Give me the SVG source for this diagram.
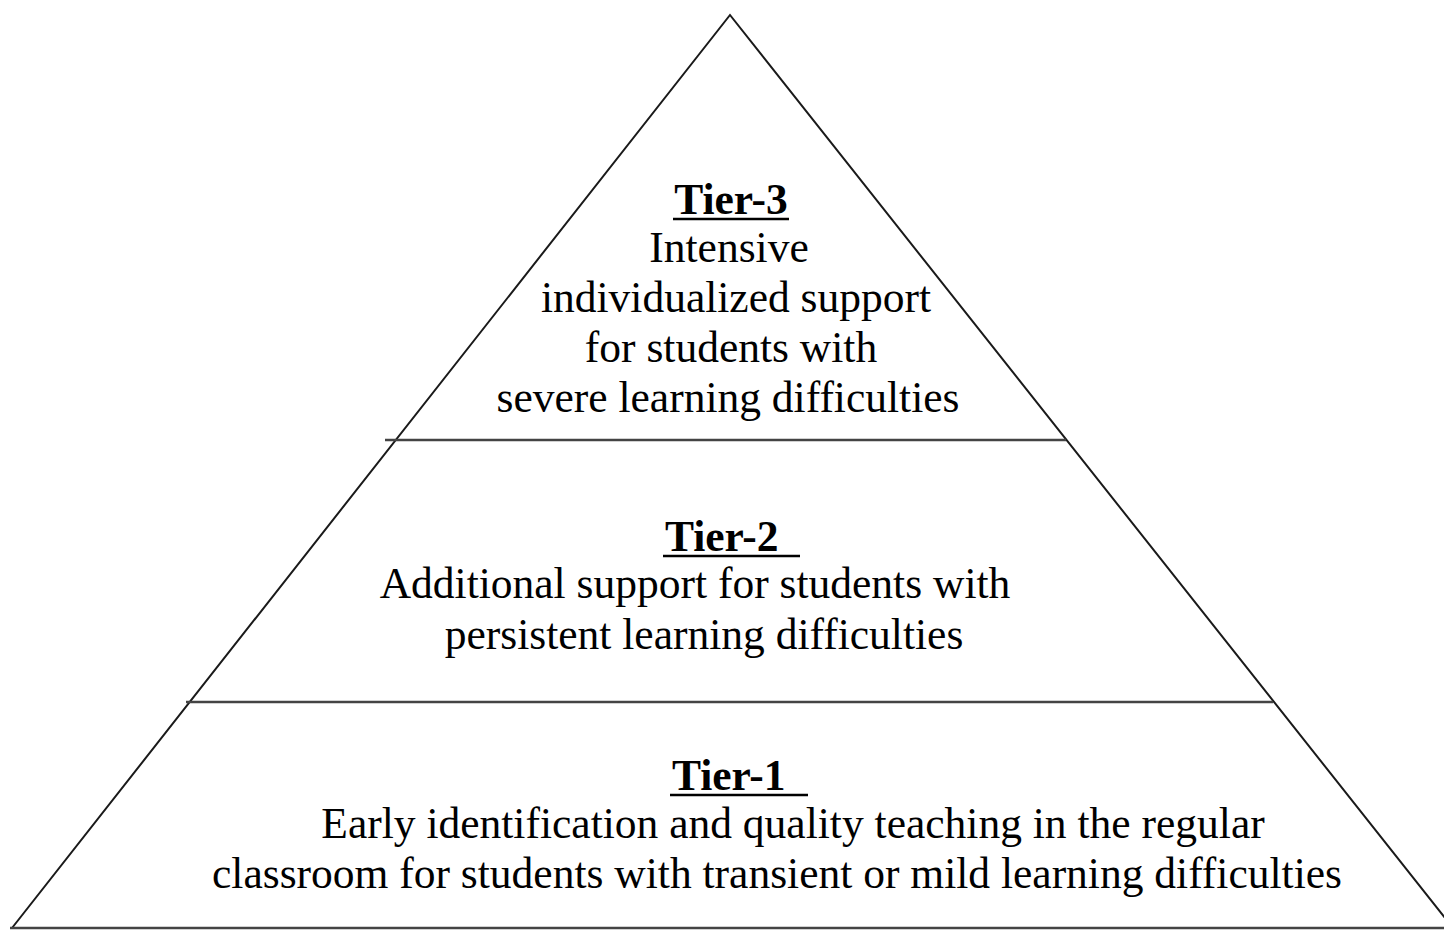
<svg xmlns="http://www.w3.org/2000/svg" width="1444" height="930" viewBox="0 0 1444 930">
<style>
.t{font-family:"Liberation Serif","Times New Roman",serif;font-size:43.5px;fill:#000}
.b{font-weight:bold}
.edge{stroke:#1a1a1a;stroke-width:2;fill:none}
.div{stroke:#444;stroke-width:2.5;fill:none}
.ul{stroke:#000;stroke-width:2.5}
</style>
<rect width="1444" height="930" fill="#fff"/>
<g id="connectors">
<path class="edge" d="M12,928 L730,15 L1453,928"/>
<line class="div" x1="10" y1="928" x2="1444" y2="928"/>
<line class="div" x1="385" y1="440" x2="1066" y2="440"/>
<line class="div" x1="186" y1="702" x2="1273" y2="702"/>
</g>
<g id="tier3">
<text class="t b" x="731" y="214" text-anchor="middle">Tier-3</text>
<line class="ul" x1="673" y1="219" x2="789" y2="219"/>
<text class="t" x="729" y="262" text-anchor="middle">Intensive</text>
<text class="t" x="736" y="312" text-anchor="middle">individualized support</text>
<text class="t" x="731" y="362" text-anchor="middle">for students with</text>
<text class="t" x="728" y="412" text-anchor="middle">severe learning difficulties</text>
</g>
<g id="tier2">
<text class="t b" x="665" y="551">Tier-2</text>
<line class="ul" x1="663" y1="556" x2="800" y2="556"/>
<text class="t" x="695" y="598" text-anchor="middle">Additional support for students with</text>
<text class="t" x="704" y="649" text-anchor="middle">persistent learning difficulties</text>
</g>
<g id="tier1">
<text class="t b" x="672" y="790">Tier-1</text>
<line class="ul" x1="670" y1="795" x2="808" y2="795"/>
<text class="t" x="793" y="838" text-anchor="middle">Early identification and quality teaching in the regular</text>
<text class="t" x="777" y="888" text-anchor="middle">classroom for students with transient or mild learning difficulties</text>
</g>
</svg>
